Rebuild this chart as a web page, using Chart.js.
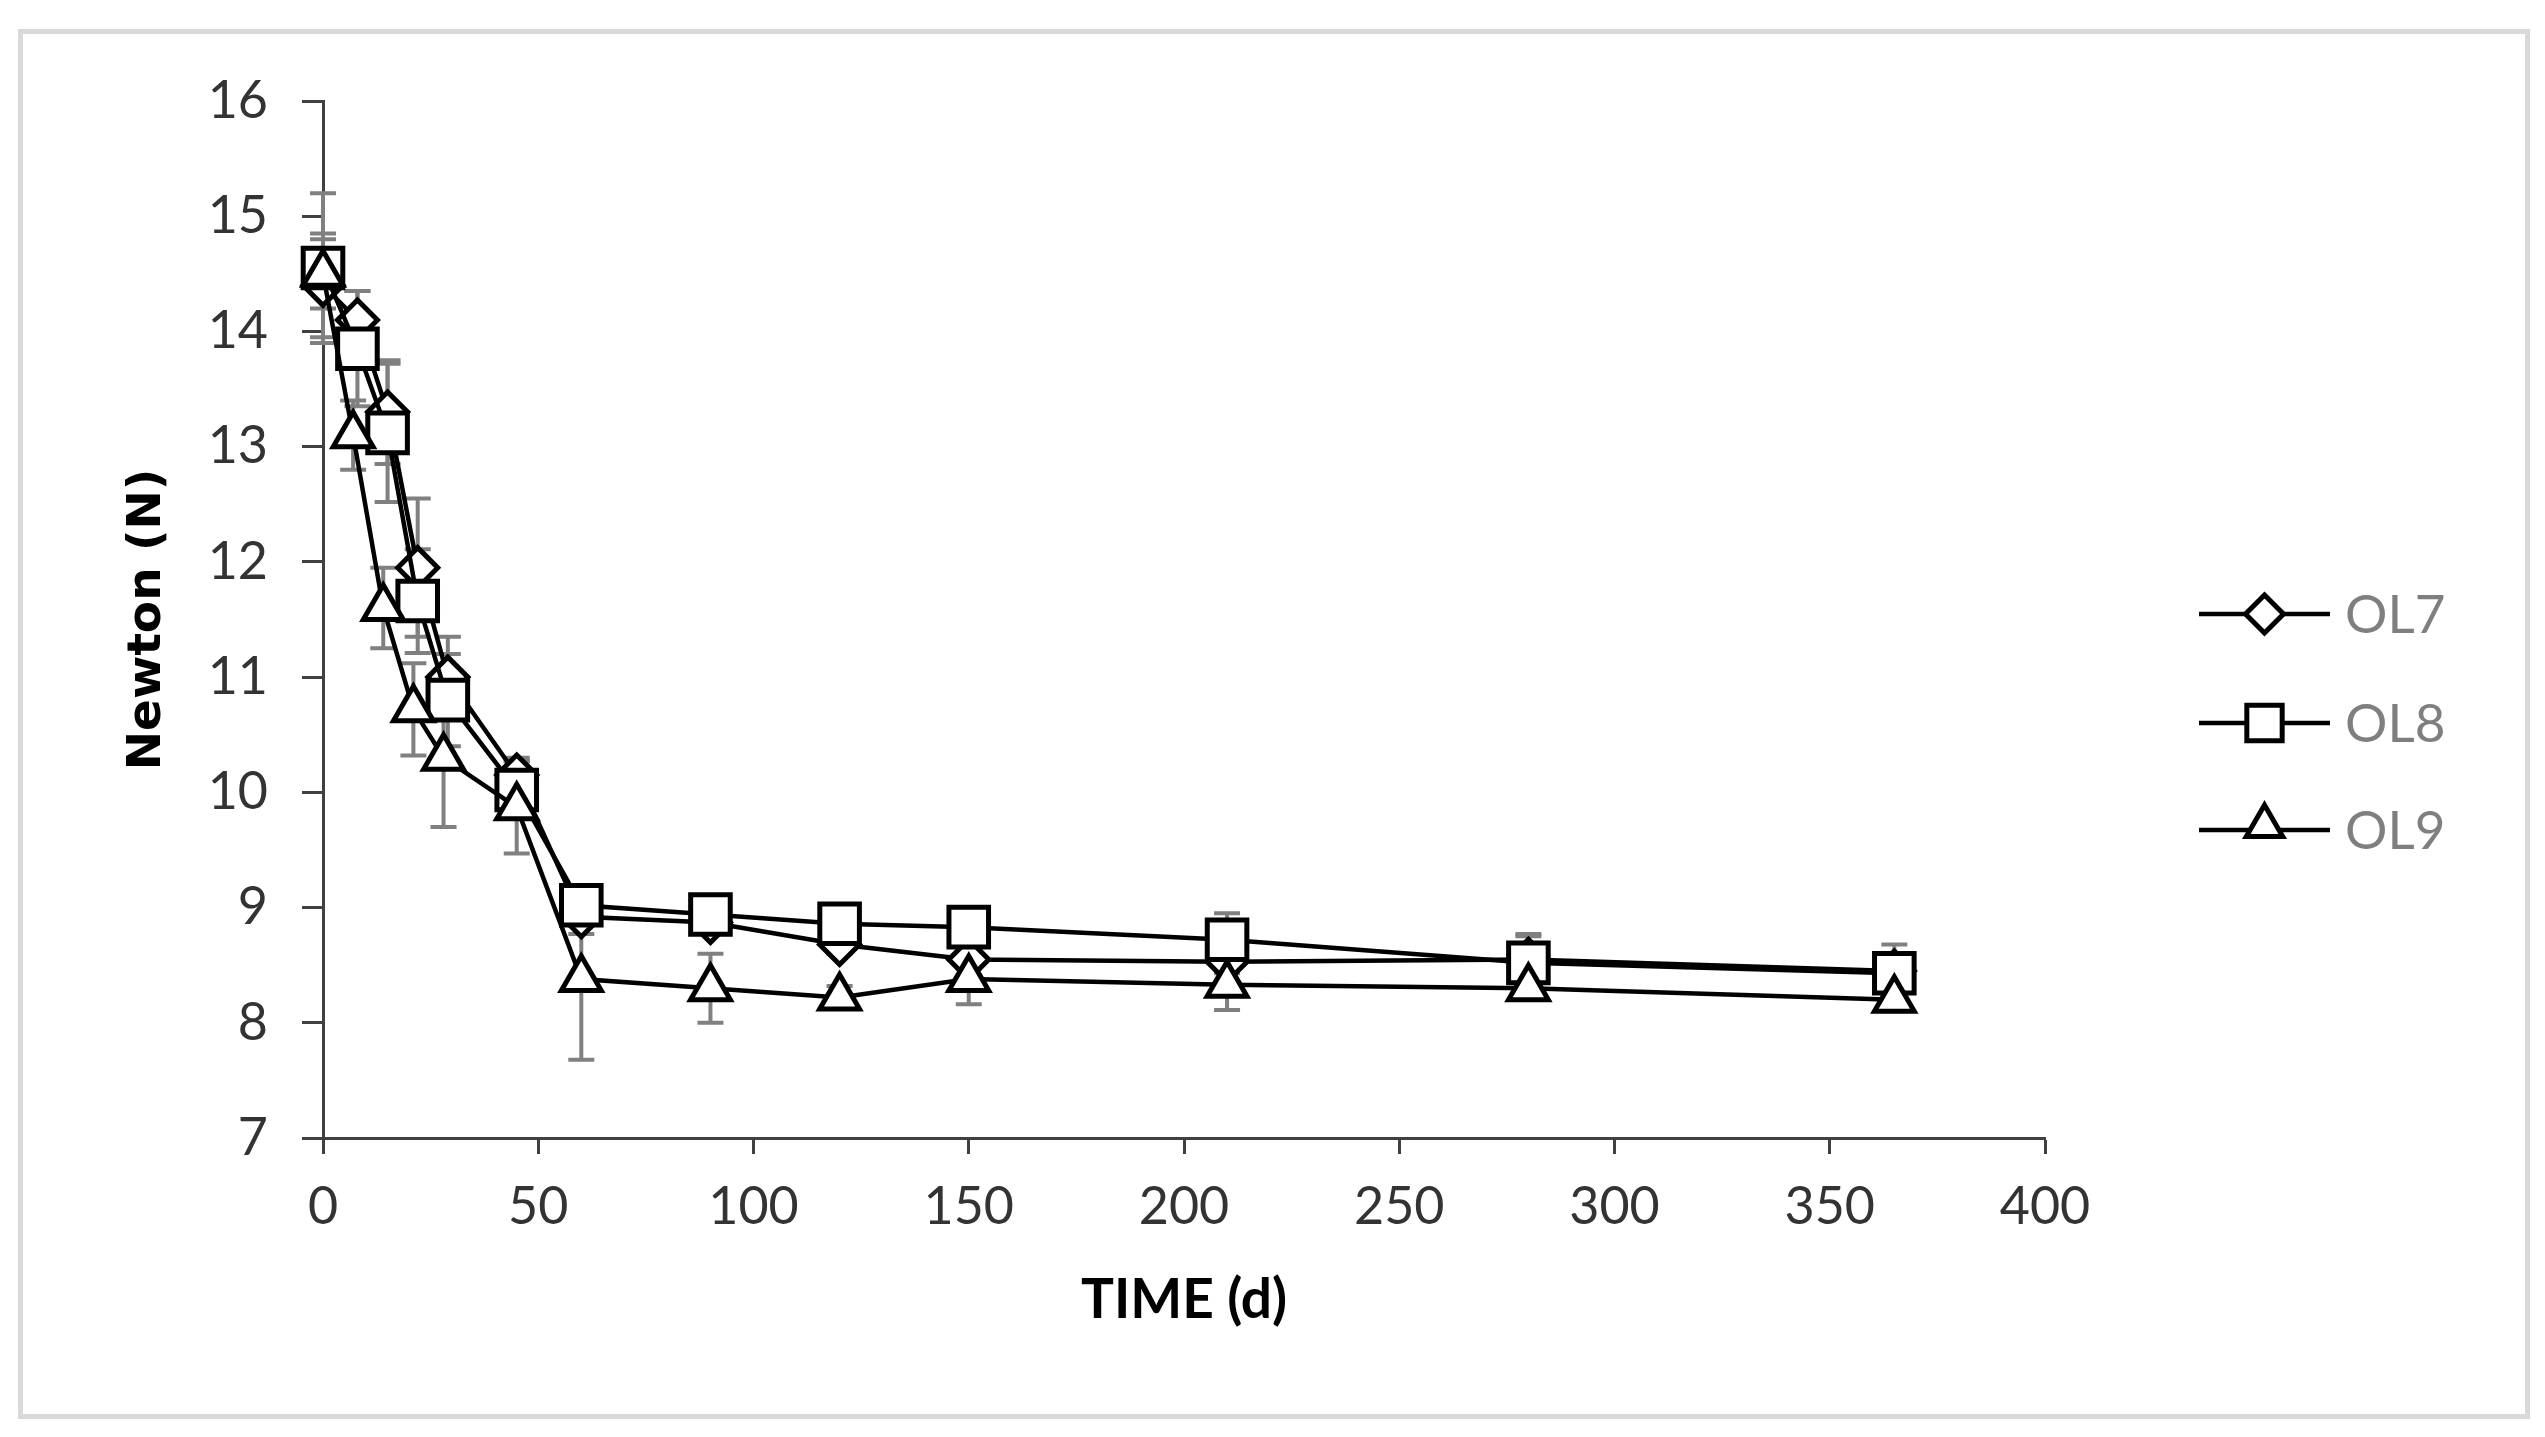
<!DOCTYPE html>
<html>
<head>
<meta charset="utf-8">
<title>Newton vs time</title>
<script src="https://cdn.jsdelivr.net/npm/chart.js@4/dist/chart.umd.min.js"></script>
<style>
  html, body { margin: 0; padding: 0; background: #fff; }
  #wrap { position: relative; width: 2545px; height: 1437px; }
  #frame {
    position: absolute; left: 18px; top: 29px; width: 2512px; height: 1390px;
    box-sizing: border-box; border: 5px solid #d9d9d9;
  }
  #chart { position: absolute; left: 0; top: 0; }
</style>
</head>
<body>
<div id="wrap">
  <div id="frame"></div>
  <canvas id="chart" width="2545" height="1437"></canvas>
</div>
<script>
// sampling days (OL9 was read a day earlier in the first weeks)
const daysA = [0, 8, 15, 22, 29, 45, 60, 90, 120, 150, 210, 280, 365];
const daysB = [0, 7, 14, 21, 28, 45, 60, 90, 120, 150, 210, 280, 365];

const seriesNames = ["OL7", "OL8", "OL9"];

const ol7 = [14.4, 14.1, 13.3, 11.95, 11.0, 10.15, 8.92, 8.87, 8.68, 8.55, 8.53, 8.55, 8.45];
const ol8 = [14.55, 13.85, 13.12, 11.66, 10.8, 10.02, 9.02, 8.94, 8.86, 8.83, 8.72, 8.52, 8.43];
const ol9 = [14.5, 13.1, 11.6, 10.72, 10.3, 9.87, 8.38, 8.3, 8.22, 8.38, 8.33, 8.3, 8.2];

// standard deviations (grey error bars)
const ol7Err = [0.45, 0.25, 0.45, 0.6, 0.35, 0.15, 0.15, 0.08, 0.08, 0.08, 0.1, 0.2, 0.15];
const ol8Err = [0.65, 0.5, 0.6, 0.45, 0.4, 0.25, 0.1, 0.08, 0.08, 0.08, 0.23, 0.25, 0.25];
const ol9Err = [0.3, 0.3, 0.35, 0.4, 0.6, 0.4, 0.7, 0.3, 0.1, 0.22, 0.22, 0.1, 0.1];

const yTicks = [7, 8, 9, 10, 11, 12, 13, 14, 15, 16];
const xTicks = [0, 50, 100, 150, 200, 250, 300, 350, 400];

const AXIS_COLOR = "#404040";
const LABEL_COLOR = "#333333";

function toPoints(days, vals) {
    return vals.map((v, i) => ({ x: days[i], y: v }));
}

function makeSeries(label, days, vals, errs, style, radius, order) {
    return {
        label,
        data: toPoints(days, vals),
        errors: errs,
        borderColor: "#000",
        borderWidth: 4.5,
        backgroundColor: "#fff",
        pointStyle: style,
        pointRadius: radius,
        pointHoverRadius: radius,
        pointBorderWidth: 5,
        pointBorderColor: "#000",
        pointBackgroundColor: "#fff",
        tension: 0,
        fill: false,
        clip: false,   // the day-0 markers sit on the y axis, don't cut them
        order,
    };
}

// grey SD bars drawn under the series
const errorBarPlugin = {
    id: "errorBars",
    beforeDatasetsDraw(chart) {
        const { ctx, scales: { x, y } } = chart;
        ctx.save();
        ctx.strokeStyle = "#808080";
        ctx.lineWidth = 4;
        const cap = 13;
        chart.data.datasets.forEach(ds => {
            ds.data.forEach((pt, j) => {
                const e = ds.errors[j];
                if (!e) return;
                const px = x.getPixelForValue(pt.x);
                const top = y.getPixelForValue(pt.y + e);
                const bot = y.getPixelForValue(pt.y - e);
                ctx.beginPath();
                ctx.moveTo(px, top); ctx.lineTo(px, bot);
                ctx.moveTo(px - cap, top); ctx.lineTo(px + cap, top);
                ctx.moveTo(px - cap, bot); ctx.lineTo(px + cap, bot);
                ctx.stroke();
            });
        });
        ctx.restore();
    },
};

// Excel-style legend: a line with the marker in the middle
const sideLegendPlugin = {
    id: "sideLegend",
    afterDraw(chart) {
        const ctx = chart.ctx;
        const rows = [614, 723, 830];
        const x0 = 2199, x1 = 2330, textX = 2345;
        const sizes = { rectRot: 19, rect: 25, triangle: 21 };
        ctx.save();
        chart.data.datasets.forEach((ds, i) => {
            const y = rows[i];
            ctx.strokeStyle = "#000";
            ctx.lineWidth = 4.5;
            ctx.beginPath();
            ctx.moveTo(x0, y); ctx.lineTo(x1, y);
            ctx.stroke();
            ctx.fillStyle = "#fff";
            ctx.lineWidth = 5;
            const cx = (x0 + x1) / 2;
            const cy = ds.pointStyle === "triangle" ? y - 4 : y;
            Chart.helpers.drawPoint(ctx, {
                pointStyle: ds.pointStyle,
                radius: sizes[ds.pointStyle],
                rotation: 0,
                borderWidth: 5,
            }, cx, cy);
            ctx.fillStyle = "#7f7f7f";
            ctx.font = "53px Lato";
            ctx.textAlign = "left";
            ctx.textBaseline = "middle";
            ctx.fillText(ds.label, textX, y + 2);
        });
        ctx.restore();
    },
};

function initChart() {
    const canvas = document.getElementById("chart");
    new Chart(canvas, {
        type: "line",
        data: {
            datasets: [
                makeSeries(seriesNames[0], daysA, ol7, ol7Err, "rectRot", 20, 3),
                makeSeries(seriesNames[1], daysA, ol8, ol8Err, "rect", 28, 2),
                makeSeries(seriesNames[2], daysB, ol9, ol9Err, "triangle", 23, 1),
            ],
        },
        options: {
            responsive: false,
            animation: false,
            devicePixelRatio: 1,
            layout: { padding: { top: 101, right: 500, left: 0, bottom: 0 } },
            plugins: {
                legend: { display: false },
                tooltip: { enabled: false },
                title: { display: false },
            },
            scales: {
                x: {
                    type: "linear",
                    min: 0,
                    max: 400,
                    afterBuildTicks: s => { s.ticks = xTicks.map(v => ({ value: v })); },
                    afterFit: s => { s.height = 299; },
                    ticks: {
                        color: LABEL_COLOR,
                        font: { family: "Lato", size: 52 },
                        padding: 22,
                        maxRotation: 0,
                    },
                    grid: {
                        drawOnChartArea: false,
                        drawTicks: true,
                        tickLength: 16,
                        tickWidth: 3,
                        tickColor: AXIS_COLOR,
                    },
                    border: { display: true, color: AXIS_COLOR, width: 3 },
                    title: {
                        display: true,
                        text: "TIME (d)",
                        color: "#000",
                        font: { family: "Lato", size: 55, weight: "bold" },
                        padding: { top: 0, bottom: 104 },
                    },
                },
                y: {
                    min: 7,
                    max: 16,
                    afterBuildTicks: s => { s.ticks = yTicks.map(v => ({ value: v })); },
                    afterFit: s => { s.width = 323; },
                    ticks: {
                        color: LABEL_COLOR,
                        font: { family: "Lato", size: 52 },
                        padding: 34,
                    },
                    grid: {
                        drawOnChartArea: false,
                        drawTicks: true,
                        tickLength: 21,
                        tickWidth: 3,
                        tickColor: AXIS_COLOR,
                    },
                    border: { display: true, color: AXIS_COLOR, width: 3 },
                    title: {
                        display: true,
                        text: "Newton (N)",
                        color: "#000",
                        font: { family: "DejaVu Sans", size: 47, weight: "bold" },
                        padding: { top: 120, bottom: 0 },
                    },
                },
            },
        },
        plugins: [errorBarPlugin, sideLegendPlugin],
    });
}

if (document.fonts && document.fonts.load) {
    Promise.all([
        document.fonts.load("52px Lato"),
        document.fonts.load("bold 55px Lato"),
        document.fonts.load("bold 47px 'DejaVu Sans'"),
    ]).then(initChart, initChart);
} else {
    initChart();
}
</script>
</body>
</html>
